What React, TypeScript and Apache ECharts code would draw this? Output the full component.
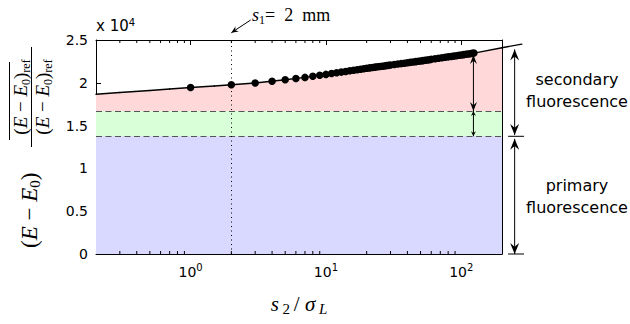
import React, { useEffect, useRef } from 'react';
import * as echarts from 'echarts';

// x axis (log) range and tick values
const xMin = 0.2;
const xMax = 200;
const minorTickX = [0.3, 0.4, 0.5, 0.6, 0.7, 0.8, 0.9, 2, 3, 4, 5, 6, 7, 8, 9, 20, 30, 40, 50, 60, 70, 80, 90];

// y axis
const yMin = 0;
const yMax = 25000;
const yStep = 5000;

// fitted curve (extends beyond the right axis limit)
const fitX = [0.2, 0.3, 0.5, 0.7, 1, 1.5, 2, 3, 5, 7, 10, 15, 20, 30, 50, 70, 100, 130, 200, 280];
const fitY = [18660, 18860, 19100, 19270, 19450, 19630, 19770, 19970, 20360, 20630, 20980, 21400, 21700, 22070, 22550, 22900, 23250, 23520, 24100, 24520];

// simulated points
const dotX = [1, 2, 3, 4, 5, 6, 7, 8, 9, 10, 11, 12, 13, 14, 15, 16, 17, 18, 19, 20, 21, 22, 23, 24, 25, 26, 27, 28, 29, 30,
  32, 34, 36, 38, 40, 42, 44, 46, 48, 50, 52, 54, 56, 58, 60,
  64, 68, 72, 76, 80, 84, 88, 92, 96, 100, 104, 108, 112, 116, 120, 124];
const dotY = [19450, 19770, 19970, 20190, 20360, 20510, 20630, 20760, 20880, 20980, 21080, 21170, 21250, 21330, 21400, 21470, 21530, 21590, 21640, 21700, 21740, 21790, 21830, 21870, 21900, 21940, 21970, 22010, 22040, 22070,
  22130, 22190, 22240, 22290, 22340, 22390, 22430, 22470, 22510, 22550, 22590, 22630, 22670, 22700, 22740,
  22810, 22870, 22930, 22980, 23030, 23080, 23120, 23170, 23210, 23250, 23290, 23330, 23370, 23400, 23440, 23470];

// band limits
const frontTop = 16700;   // top of "in front of sheet" band
const primaryTop = 13750; // top of primary fluorescence band
const s1Position = 2;

const pinkColor = '#FFD9D9';
const greenColor = '#D9FFD9';
const blueColor = '#D9D9FF';

// annotation arrows in data coordinates: heads 0 = plain line, 1 = end head, 2 = both heads
const arrows = [
  { x1: 123, y1: 23250, x2: 123, y2: 16700, heads: 2, len: 9, w: 7 },
  { x1: 123, y1: 16700, x2: 123, y2: 13750, heads: 2, len: 5, w: 5 },
  { x1: 248, y1: 23900, x2: 248, y2: 13900, heads: 2, len: 11, w: 9 },
  { x1: 248, y1: 13450, x2: 248, y2: 0, heads: 2, len: 11, w: 9 },
  { x1: 222, y1: 13750, x2: 291, y2: 13750, heads: 0, len: 0, w: 0 },
  { x1: 222, y1: 0, x2: 291, y2: 0, heads: 0, len: 0, w: 0 },
  { x1: 2.78, y1: 27340, x2: 2.0, y2: 25850, heads: 1, len: 7, w: 6 },
];

const serif = 'Liberation Serif';
const sans = 'DejaVu Sans';

function isPow10(v: number) {
  const l = Math.log10(v);
  return Math.abs(l - Math.round(l)) < 1e-6;
}

function buildOption() {
  const fitData = fitX.map((x, i) => [x, fitY[i]]);
  const pinkData = fitData.filter((p) => p[0] <= xMax);
  const dots = dotX.map((x, i) => [x, dotY[i]]);

  const axisLine = { show: true, onZero: false, lineStyle: { color: '#000', width: 1 } };
  const axisTick = { show: true, inside: true, length: 5, lineStyle: { color: '#000', width: 1 } };

  const xBase = {
    type: 'log',
    logBase: 10,
    min: xMin,
    max: xMax,
    axisLine,
    axisTick,
    splitLine: { show: false },
    minorTick: { show: false },
    minorSplitLine: { show: false },
  };

  const yBase = {
    type: 'value',
    min: yMin,
    max: yMax,
    interval: yStep,
    axisLine,
    axisTick,
    splitLine: { show: false },
  };

  const head = (tip: number[], from: number[], len: number, w: number) => {
    const dx = tip[0] - from[0];
    const dy = tip[1] - from[1];
    const d = Math.hypot(dx, dy) || 1;
    const ux = dx / d;
    const uy = dy / d;
    const nx = -uy;
    const ny = ux;
    const bx = tip[0] - ux * len;
    const by = tip[1] - uy * len;
    const kx = tip[0] - ux * len * 0.65;
    const ky = tip[1] - uy * len * 0.65;
    return {
      type: 'polygon',
      shape: {
        points: [
          [tip[0], tip[1]],
          [bx + (nx * w) / 2, by + (ny * w) / 2],
          [kx, ky],
          [bx - (nx * w) / 2, by - (ny * w) / 2],
        ],
      },
      style: { fill: '#000' },
    };
  };

  const mathRich = (size: number, sub: number) => ({
    i: { fontFamily: serif, fontStyle: 'italic', fontSize: size, lineHeight: size + 4, verticalAlign: 'middle', fill: '#000', color: '#000' },
    n: { fontFamily: serif, fontSize: size, lineHeight: size + 4, verticalAlign: 'middle', fill: '#000', color: '#000' },
    sb: { fontFamily: serif, fontSize: sub, lineHeight: sub, verticalAlign: 'bottom', fill: '#000', color: '#000' },
    si: { fontFamily: serif, fontStyle: 'italic', fontSize: sub, lineHeight: sub, verticalAlign: 'bottom', fill: '#000', color: '#000' },
  });

  const textStyle = (text: string, x: number, y: number, align: string, font = `16px "${sans}"`) => ({
    type: 'text',
    style: {
      text,
      x,
      y,
      font,
      fill: '#000',
      align,
      textAlign: align,
      verticalAlign: 'middle',
      textVerticalAlign: 'middle',
    },
  });

  return {
    animation: false,
    backgroundColor: '#fff',
    grid: { left: 96, top: 40, width: 406, height: 214, outerBoundsMode: 'none' },
    xAxis: [
      {
        ...xBase,
        position: 'bottom',
        axisLabel: {
          margin: 8,
          formatter: (v: number) => (isPow10(v) ? `{b|10}{s|${Math.round(Math.log10(v))}}` : ''),
          showMinLabel: true,
          showMaxLabel: true,
          rich: {
            b: { fontFamily: sans, fontSize: 14, lineHeight: 20, verticalAlign: 'middle', color: '#000' },
            s: { fontFamily: sans, fontSize: 10, lineHeight: 10, verticalAlign: 'top', color: '#000' },
          },
        },
      },
      { ...xBase, position: 'top', axisLabel: { show: false } },
    ],
    yAxis: [
      {
        ...yBase,
        position: 'left',
        axisLabel: {
          margin: 8,
          fontFamily: sans,
          fontSize: 14,
          color: '#000',
          formatter: (v: number) => String(v / 10000),
        },
      },
      { ...yBase, position: 'right', axisLabel: { show: false } },
    ],
    series: [
      {
        name: 'behind',
        type: 'line',
        data: pinkData,
        symbol: 'none',
        lineStyle: { width: 0, opacity: 0 },
        areaStyle: { color: pinkColor, opacity: 1 },
        silent: true,
        z: 1,
      },
      {
        name: 'front',
        type: 'line',
        data: [[xMin, frontTop], [xMax, frontTop]],
        symbol: 'none',
        lineStyle: { width: 0, opacity: 0 },
        areaStyle: { color: greenColor, opacity: 1 },
        silent: true,
        z: 1,
      },
      {
        name: 'primary',
        type: 'line',
        data: [[xMin, primaryTop], [xMax, primaryTop]],
        symbol: 'none',
        lineStyle: { width: 0, opacity: 0 },
        areaStyle: { color: blueColor, opacity: 1 },
        silent: true,
        z: 1,
        markLine: {
          silent: true,
          symbol: ['none', 'none'],
          label: { show: false },
          data: [
            { yAxis: frontTop, lineStyle: { color: '#555', width: 1, type: [6, 3.5] } },
            { yAxis: primaryTop, lineStyle: { color: '#555', width: 1, type: [6, 3.5] } },
            { xAxis: s1Position, lineStyle: { color: '#000', width: 1, type: [1, 3.5] } },
          ],
        },
      },
      {
        name: 'fit',
        type: 'custom',
        clip: false,
        data: fitData,
        encode: { x: 0, y: 1 },
        z: 6,
        silent: true,
        renderItem: (params: any, api: any) => {
          const i = params.dataIndex;
          if (i >= fitData.length - 1) return { type: 'group', children: [] };
          const p1 = api.coord(fitData[i]);
          const p2 = api.coord(fitData[i + 1]);
          return {
            type: 'line',
            shape: { x1: p1[0], y1: p1[1], x2: p2[0], y2: p2[1] },
            style: { stroke: '#000', lineWidth: 1.4, lineCap: 'round' },
          };
        },
      },
      {
        name: 'points',
        type: 'scatter',
        data: dots,
        symbol: 'circle',
        symbolSize: 7.5,
        itemStyle: { color: '#000', opacity: 1 },
        z: 7,
      },
      {
        name: 'minorTicks',
        type: 'custom',
        data: minorTickX.map((v) => [v, 0]),
        encode: { x: 0, y: 1 },
        z: 8,
        silent: true,
        renderItem: (params: any, api: any) => {
          const x = api.coord([api.value(0), 0])[0];
          const cs = params.coordSys;
          return {
            type: 'group',
            children: [
              { type: 'line', shape: { x1: x, y1: cs.y, x2: x, y2: cs.y + 3 }, style: { stroke: '#000', lineWidth: 1 } },
              { type: 'line', shape: { x1: x, y1: cs.y + cs.height, x2: x, y2: cs.y + cs.height - 3 }, style: { stroke: '#000', lineWidth: 1 } },
            ],
          };
        },
      },
      {
        name: 'arrows',
        type: 'custom',
        clip: false,
        data: arrows.map((a) => [a.x1, a.y1, a.x2, a.y2]),
        encode: { x: [0, 2], y: [1, 3] },
        z: 9,
        silent: true,
        renderItem: (params: any, api: any) => {
          const a = arrows[params.dataIndex];
          const p1 = api.coord([a.x1, a.y1]);
          const p2 = api.coord([a.x2, a.y2]);
          const children: any[] = [
            { type: 'line', shape: { x1: p1[0], y1: p1[1], x2: p2[0], y2: p2[1] }, style: { stroke: '#000', lineWidth: 1 } },
          ];
          if (a.heads >= 1) children.push(head(p2, p1, a.len, a.w));
          if (a.heads >= 2) children.push(head(p1, p2, a.len, a.w));
          return { type: 'group', children };
        },
      },
    ],
    graphic: [
      {
        type: 'text',
        x: 96,
        y: 17,
        style: {
          text: '{b|x 10}{s|4}',
          rich: {
            b: { fontFamily: sans, fontSize: 15, lineHeight: 18, verticalAlign: 'middle', fill: '#000' },
            s: { fontFamily: sans, fontSize: 10, lineHeight: 10, verticalAlign: 'top', fill: '#000' },
          },
        },
      },
      {
        type: 'text',
        x: 252,
        y: 4,
        style: {
          text: '{i|s}{sb|1}{n|=  2  mm}',
          rich: mathRich(18, 12),
        },
      },
      {
        type: 'text',
        x: 299,
        y: 304,
        style: {
          text: '{i|s}{sb| 2 }{n|/ }{i|σ}{si| L}',
          rich: mathRich(21, 15),
          align: 'center',
          textAlign: 'center',
          verticalAlign: 'middle',
          textVerticalAlign: 'middle',
        },
      },
      {
        type: 'group',
        x: 0,
        y: 250,
        rotation: Math.PI / 2,
        children: [
          {
            type: 'text',
            x: 2,
            y: 29,
            style: {
              text: '{n|(}{i|E}{n| − }{i|E}{sb|0}{n|)}',
              rich: mathRich(23, 15),
              verticalAlign: 'middle',
              textVerticalAlign: 'middle',
            },
          },
          {
            type: 'text',
            x: 153,
            y: 20,
            style: {
              text: '{n|(}{i|E}{n| − }{i|E}{sb|0}{n|)}{sb|ref}',
              rich: mathRich(19, 12),
              align: 'center',
              textAlign: 'center',
              verticalAlign: 'middle',
              textVerticalAlign: 'middle',
            },
          },
          {
            type: 'text',
            x: 153,
            y: 42,
            style: {
              text: '{n|(}{i|E}{n| − }{i|E}{sb|0}{n|)}{sb|ref}',
              rich: mathRich(19, 12),
              align: 'center',
              textAlign: 'center',
              verticalAlign: 'middle',
              textVerticalAlign: 'middle',
            },
          },
          { type: 'line', shape: { x1: 103, y1: 31.5, x2: 203, y2: 31.5 }, style: { stroke: '#000', lineWidth: 1 } },
          { type: 'line', shape: { x1: 110, y1: 9.5, x2: 188, y2: 9.5 }, style: { stroke: '#000', lineWidth: 1 } },
        ],
      },
      textStyle('behind sheet', 461, 91, 'right'),
      textStyle('in front of sheet', 461, 124.5, 'right'),
      textStyle('secondary', 577, 79.5, 'center'),
      textStyle('fluorescence', 577, 101, 'center'),
      textStyle('primary', 577, 185, 'center'),
      textStyle('fluorescence', 577, 207.5, 'center'),
    ],
  };
}

export default function App() {
  const ref = useRef<HTMLDivElement>(null);
  useEffect(() => {
    if (!ref.current) return;
    const chart = echarts.init(ref.current, null, { renderer: 'svg' });
    chart.setOption(buildOption() as any);
    return () => chart.dispose();
  }, []);
  return <div ref={ref} style={{ position: 'fixed', left: 0, top: 0, width: 630, height: 324 }} />;
}
